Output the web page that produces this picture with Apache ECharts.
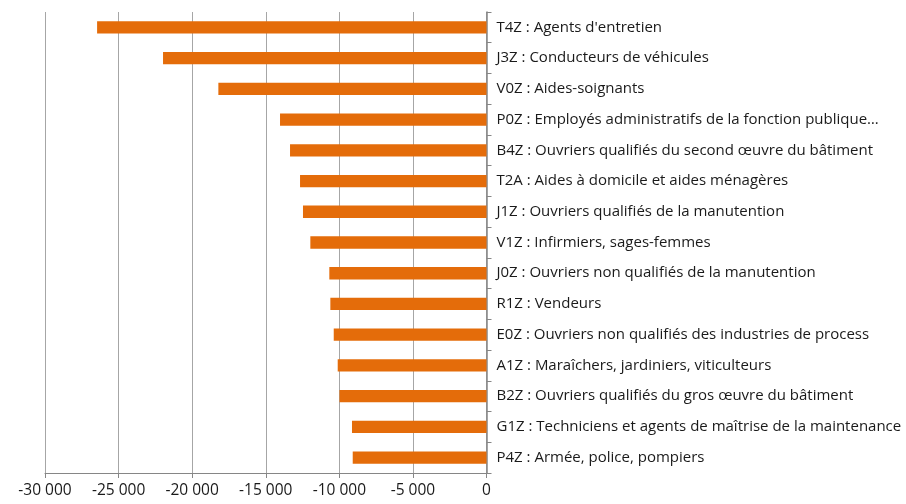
<!DOCTYPE html>
<html>
<head>
<meta charset="utf-8">
<script src="https://cdn.jsdelivr.net/npm/echarts@6/dist/echarts.min.js"></script>
<style>
  html, body { margin: 0; padding: 0; background: #fff; }
  #main { width: 906px; height: 504px; }
</style>
</head>
<body>
<div id="main"></div>
<script>
// metiers (top to bottom) and their net change
const categories = [
  "T4Z : Agents d'entretien",
  "J3Z : Conducteurs de véhicules",
  "V0Z : Aides-soignants",
  "P0Z : Employés administratifs de la fonction publique…",
  "B4Z : Ouvriers qualifiés du second œuvre du bâtiment",
  "T2A : Aides à domicile et aides ménagères",
  "J1Z : Ouvriers qualifiés de la manutention",
  "V1Z : Infirmiers, sages-femmes",
  "J0Z : Ouvriers non qualifiés de la manutention",
  "R1Z : Vendeurs",
  "E0Z : Ouvriers non qualifiés des industries de process",
  "A1Z : Maraîchers, jardiniers, viticulteurs",
  "B2Z : Ouvriers qualifiés du gros œuvre du bâtiment",
  "G1Z : Techniciens et agents de maîtrise de la maintenance",
  "P4Z : Armée, police, pompiers"
];
const values = [-26460, -21980, -18220, -14030, -13350, -12670, -12470, -11970,
  -10680, -10610, -10380, -10110, -9990, -9140, -9090];

const fontFamily = "'Open Sans', 'Noto Sans', sans-serif";

function fmt(v) {
  const s = String(Math.abs(v)).replace(/\B(?=(\d{3})+(?!\d))/g, ' ');
  return (v < 0 ? '-' : '') + s;
}

const chart = echarts.init(document.getElementById('main'), null, { renderer: 'canvas' });

chart.setOption({
  backgroundColor: '#ffffff',
  animation: false,
  color: ['#e46c0a'],
  grid: { left: 45, right: 419.5, top: 12, bottom: 31, containLabel: false },
  xAxis: {
    type: 'value',
    min: -30000,
    max: 0,
    interval: 5000,
    axisLine: { show: true, lineStyle: { color: '#868686', width: 1 } },
    axisTick: { show: true, length: 5, lineStyle: { color: '#868686' } },
    splitLine: { show: true, lineStyle: { color: '#a6a6a6', width: 1 } },
    axisLabel: {
      color: '#1a1a1a', fontSize: 15.5, fontFamily: fontFamily, margin: 10,
      formatter: fmt
    }
  },
  yAxis: {
    type: 'category',
    data: categories,
    inverse: true,
    position: 'right',
    axisLine: { show: true, lineStyle: { color: '#868686', width: 1.5 } },
    axisTick: { show: true, length: 5, lineStyle: { color: '#868686' } },
    axisLabel: {
      color: '#1a1a1a', fontSize: 15, fontFamily: fontFamily, margin: 10
    },
    splitLine: { show: false }
  },
  series: [{
    type: 'bar',
    data: values,
    barCategoryGap: '60%',
    emphasis: { disabled: true },
    itemStyle: { color: '#e46c0a', borderWidth: 0 }
  }]
});
</script>
</body>
</html>
